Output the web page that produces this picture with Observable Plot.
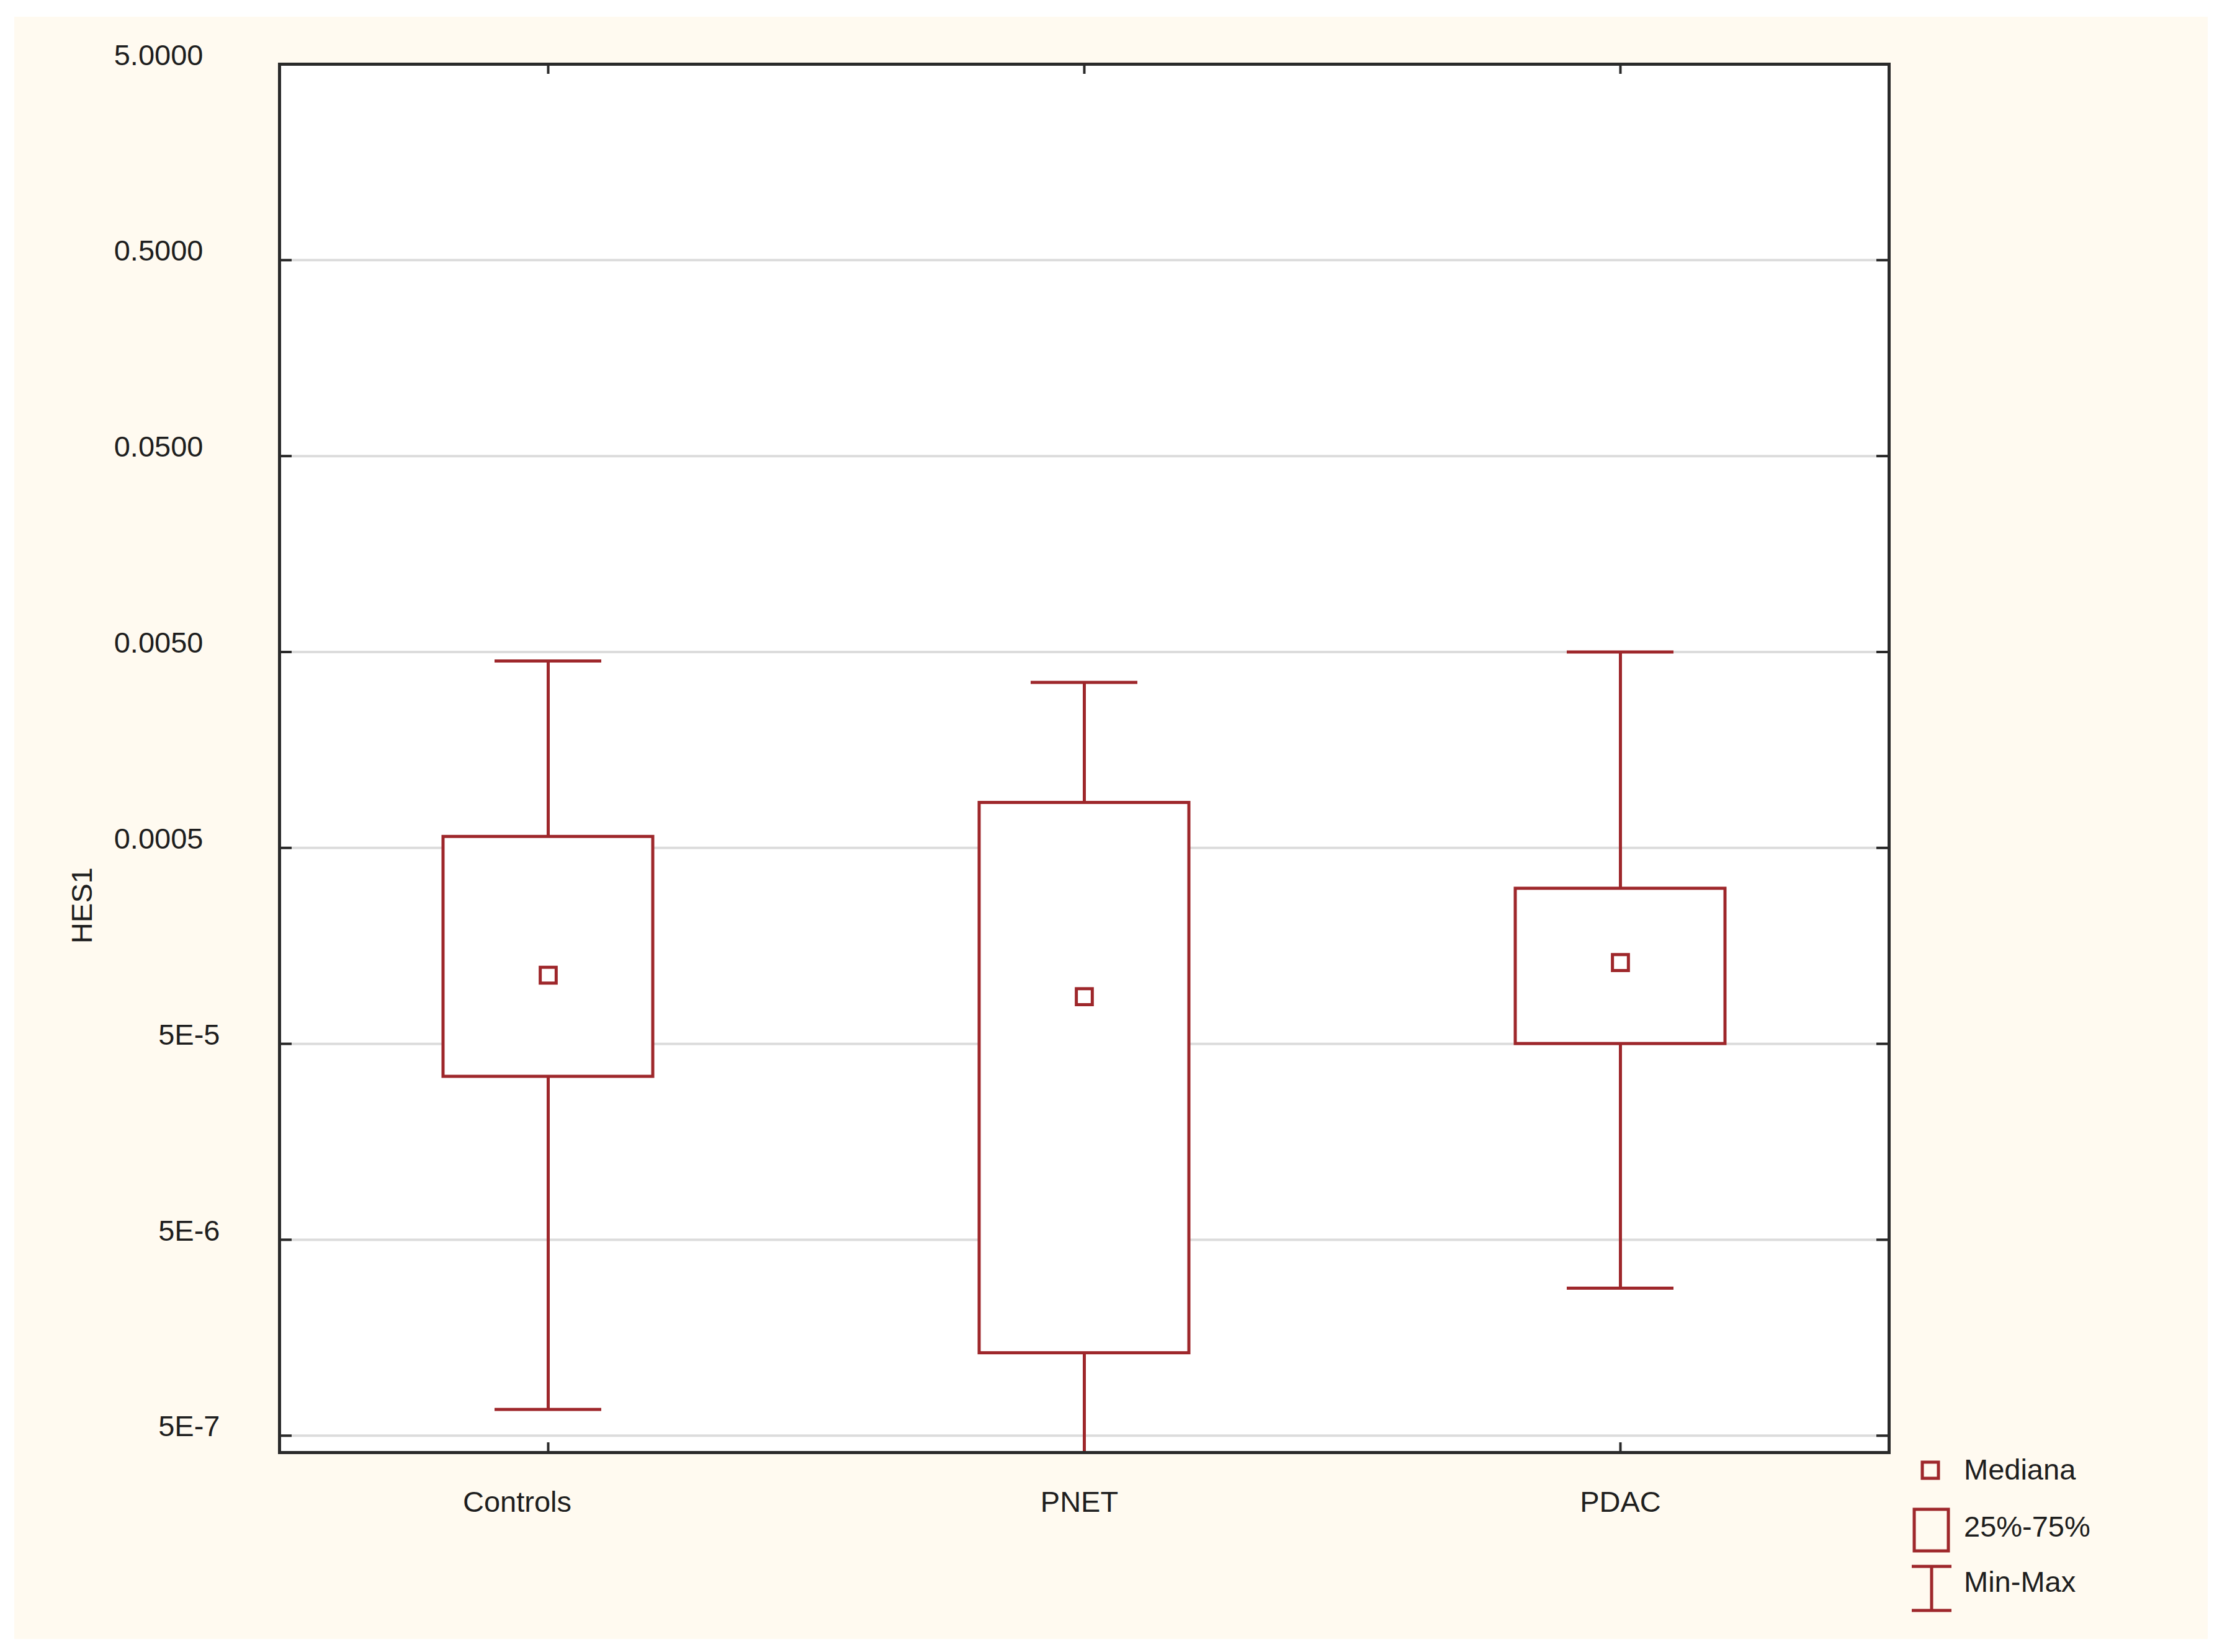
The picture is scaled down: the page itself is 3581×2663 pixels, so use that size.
<!DOCTYPE html>
<html>
<head>
<meta charset="utf-8">
<script src="https://cdn.jsdelivr.net/npm/d3@7"></script>
<script src="https://cdn.jsdelivr.net/npm/@observablehq/plot@0.6"></script>
<style>
  html, body { margin: 0; padding: 0; background: #ffffff; }
  #page { position: relative; width: 3581px; height: 2663px; overflow: hidden; }
  #cream { position: absolute; left: 23px; top: 27px; width: 3535px; height: 2615px; background: #fffaf0; }
  #chart { position: absolute; left: 0; top: 0; }
  #legend { position: absolute; left: 0; top: 0; }
</style>
</head>
<body>
<div id="page">
  <div id="cream"></div>
  <div id="chart"></div>
  <svg id="legend" width="3581" height="2663"></svg>
</div>
<script>
// ---- data ----
const groups = ["Controls", "PNET", "PDAC"];
const minValues    = [6.8e-7, 3.0e-7, 2.83e-6];
const q1Values     = [3.4e-5, 1.32e-6, 5.0e-5];
const medianValues = [1.12e-4, 8.7e-5, 1.3e-4];
const q3Values     = [5.7e-4, 8.5e-4, 3.1e-4];
const maxValues    = [4.5e-3, 3.5e-3, 5.0e-3];

const yTickValues = [5, 0.5, 0.05, 0.005, 0.0005, 5e-5, 5e-6, 5e-7];
const yTickLabels = ["5.0000", "0.5000", "0.0500", "0.0050", "0.0005", "5E-5", "5E-6", "5E-7"];

const legendLabels = ["Mediana", "25%-75%", "Min-Max"];

// ---- table built from the arrays ----
const table = groups.map((g, i) => ({
  group: g, min: minValues[i], q1: q1Values[i], median: medianValues[i], q3: q3Values[i], max: maxValues[i]
}));

const RED = "#9e272b";
const INK = "#1e1e1e";
const W = 3581, H = 2663;
const mL = 450, mR = 537, mT = 103, mB = 322;
const plotW = W - mL - mR, plotH = H - mT - mB;
const fmt = d => yTickLabels[yTickValues.indexOf(d)];
const decTicks = yTickValues.slice(0, 5);
const expTicks = yTickValues.slice(5);
const SW = 5;

const chart = Plot.plot({
  width: W, height: H,
  marginLeft: mL, marginRight: mR, marginTop: mT, marginBottom: mB,
  x: {type: "band", domain: groups, padding: 0, label: null},
  y: {type: "log", domain: [4.1e-7, 5], label: null},
  style: {background: "transparent", fontFamily: "'Liberation Sans', Arial, sans-serif", fontSize: "47px", color: INK},
  marks: [
    Plot.frame({fill: "white"}),
    Plot.ruleY(yTickValues, {y: d => d, stroke: "#dcdcdc", strokeWidth: 4}),
    Plot.tickY(yTickValues, {y: d => d, insetRight: plotW - 20, stroke: "#2a2a2a", strokeWidth: 4}),
    Plot.tickY(yTickValues, {y: d => d, insetLeft: plotW - 20, stroke: "#2a2a2a", strokeWidth: 4}),
    Plot.tickX(groups, {x: d => d, insetTop: plotH - 16, stroke: "#2a2a2a", strokeWidth: 4}),
    Plot.tickX(groups, {x: d => d, insetBottom: plotH - 16, stroke: "#2a2a2a", strokeWidth: 4}),
    Plot.axisY(decTicks, {anchor: "left", tickSize: 0, tickPadding: 123, tickFormat: fmt, dy: -14, label: null}),
    Plot.axisY(expTicks, {anchor: "left", tickSize: 0, tickPadding: 96, tickFormat: fmt, dy: -14, label: null}),
    Plot.axisX([groups[0]], {tickSize: 0, tickPadding: 62, dx: -50, label: null}),
    Plot.axisX([groups[1]], {tickSize: 0, tickPadding: 62, dx: -8, label: null}),
    Plot.axisX([groups[2]], {tickSize: 0, tickPadding: 62, dx: 0, label: null}),
    Plot.text(["HES1"], {frameAnchor: "left", textAnchor: "middle", dx: -318, dy: 237, rotate: -90, fontSize: 47}),
    Plot.ruleX(table, {x: "group", y1: "min", y2: "max", stroke: RED, strokeWidth: SW, clip: true}),
    Plot.tickY(table, {x: "group", y: "max", insetLeft: 346, insetRight: 346, stroke: RED, strokeWidth: SW, clip: true}),
    Plot.tickY(table, {x: "group", y: "min", insetLeft: 346, insetRight: 346, stroke: RED, strokeWidth: SW, clip: true}),
    Plot.barY(table, {x: "group", y1: "q1", y2: "q3", insetLeft: 263, insetRight: 263, fill: "white", stroke: RED, strokeWidth: SW}),
    Plot.dot(table, {x: "group", y: "median", symbol: "square", r: 14.5, fill: "white", stroke: RED, strokeWidth: SW}),
    Plot.frame({stroke: "#2a2a2a", strokeWidth: 5})
  ]
});
document.getElementById("chart").appendChild(chart);

// ---- legend ----
const lg = d3.select("#legend");
const font = "'Liberation Sans', Arial, sans-serif";
lg.append("rect").attr("x", 3098).attr("y", 2357).attr("width", 26).attr("height", 26)
  .attr("fill", "none").attr("stroke", RED).attr("stroke-width", SW);
lg.append("rect").attr("x", 3085).attr("y", 2433).attr("width", 55).attr("height", 67)
  .attr("fill", "none").attr("stroke", RED).attr("stroke-width", SW);
lg.append("line").attr("x1", 3081).attr("x2", 3145).attr("y1", 2525).attr("y2", 2525).attr("stroke", RED).attr("stroke-width", SW);
lg.append("line").attr("x1", 3081).attr("x2", 3145).attr("y1", 2596).attr("y2", 2596).attr("stroke", RED).attr("stroke-width", SW);
lg.append("line").attr("x1", 3113).attr("x2", 3113).attr("y1", 2525).attr("y2", 2596).attr("stroke", RED).attr("stroke-width", SW);
const ly = [2369, 2461, 2550];
legendLabels.forEach((t, i) => {
  lg.append("text").attr("x", 3165).attr("y", ly[i]).attr("dy", "0.35em")
    .attr("font-family", font).attr("font-size", 47).attr("fill", INK).text(t);
});
</script>
</body>
</html>
